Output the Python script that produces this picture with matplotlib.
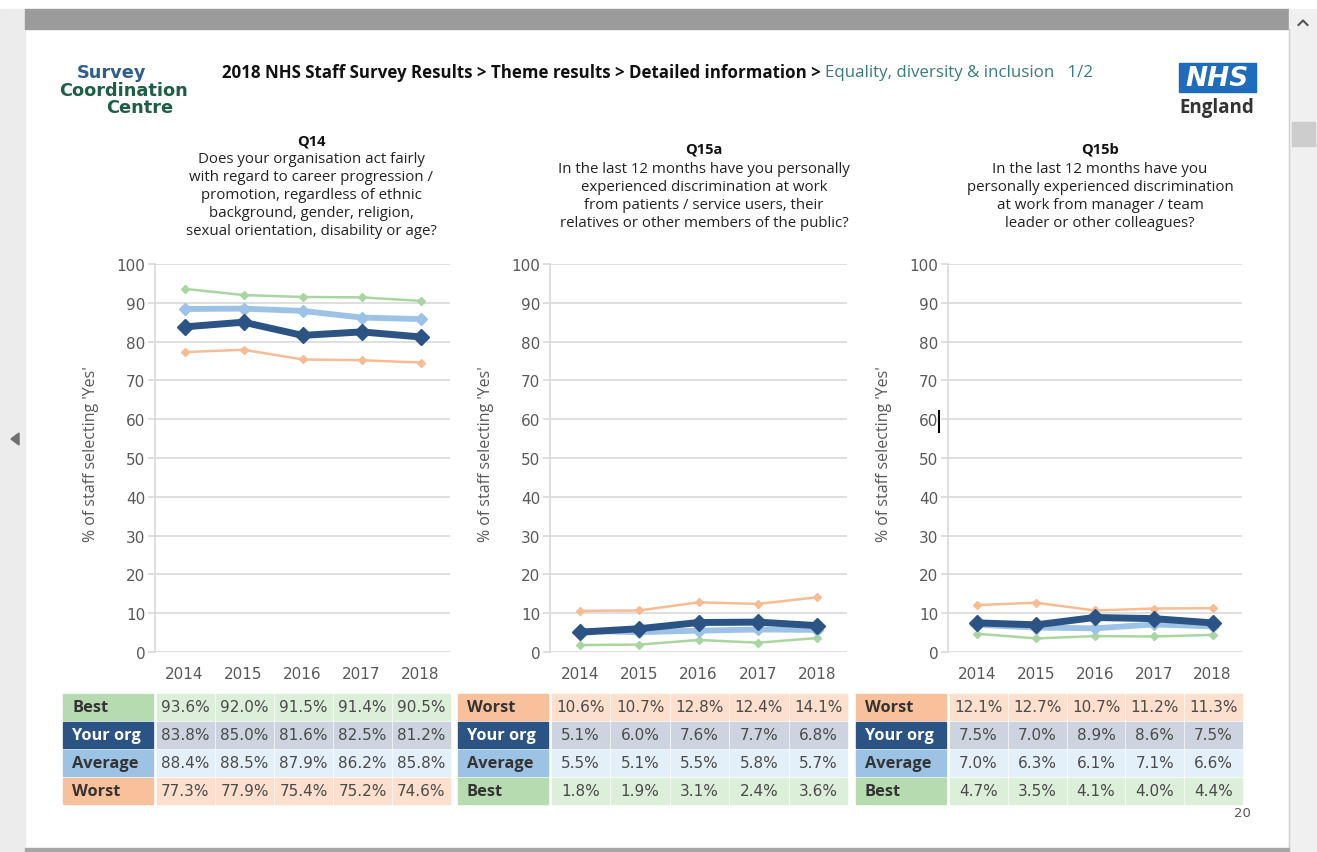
import matplotlib
matplotlib.use("Agg")
import matplotlib.pyplot as plt
from matplotlib.patches import Rectangle, Polygon

plt.rcParams['font.family'] = ['Open Sans', 'DejaVu Sans']

# ---------------- data ----------------
years = ["2014", "2015", "2016", "2017", "2018"]

q14_best = [93.6, 92.0, 91.5, 91.4, 90.5]
q14_org = [83.8, 85.0, 81.6, 82.5, 81.2]
q14_avg = [88.4, 88.5, 87.9, 86.2, 85.8]
q14_worst = [77.3, 77.9, 75.4, 75.2, 74.6]

q15a_worst = [10.6, 10.7, 12.8, 12.4, 14.1]
q15a_org = [5.1, 6.0, 7.6, 7.7, 6.8]
q15a_avg = [5.5, 5.1, 5.5, 5.8, 5.7]
q15a_best = [1.8, 1.9, 3.1, 2.4, 3.6]

q15b_worst = [12.1, 12.7, 10.7, 11.2, 11.3]
q15b_org = [7.5, 7.0, 8.9, 8.6, 7.5]
q15b_avg = [7.0, 6.3, 6.1, 7.1, 6.6]
q15b_best = [4.7, 3.5, 4.1, 4.0, 4.4]

titles = ["Q14", "Q15a", "Q15b"]
questions = [
    ["Does your organisation act fairly", "with regard to career progression /",
     "promotion, regardless of ethnic", "background, gender, religion,",
     "sexual orientation, disability or age?"],
    ["In the last 12 months have you personally", "experienced discrimination at work",
     "from patients / service users, their", "relatives or other members of the public?"],
    ["In the last 12 months have you", "personally experienced discrimination",
     "at work from manager / team", "leader or other colleagues?"],
]

yticks = [0, 10, 20, 30, 40, 50, 60, 70, 80, 90, 100]
ylabel = "% of staff selecting 'Yes'"

# rows per chart in table order
charts = [
    [("Best", q14_best), ("Your org", q14_org), ("Average", q14_avg), ("Worst", q14_worst)],
    [("Worst", q15a_worst), ("Your org", q15a_org), ("Average", q15a_avg), ("Best", q15a_best)],
    [("Worst", q15b_worst), ("Your org", q15b_org), ("Average", q15b_avg), ("Best", q15b_best)],
]

# ---------------- styles ----------------
W, H = 1317, 853
NUMFONT = ["DejaVu Sans"]
line_style = {
    "Best": dict(color="#a9d5a1", lw=1.8, ms=4.5, z=2),
    "Worst": dict(color="#f8bc95", lw=1.8, ms=4.5, z=2),
    "Average": dict(color="#9cc3e6", lw=4.2, ms=6.5, z=3),
    "Your org": dict(color="#2b5384", lw=5.0, ms=8.5, z=4),
}
label_bg = {"Best": "#b6dbb0", "Your org": "#2b5384", "Average": "#9cc3e4", "Worst": "#f8c09b"}
value_bg = {"Best": "#dcefd9", "Your org": "#cdd4df", "Average": "#e4f0f9", "Worst": "#fcdfcc"}
label_fg = {"Best": "#333333", "Your org": "white", "Average": "#333333", "Worst": "#333333"}

GRID = "#d9d9d9"
TXT = "#595959"

fig = plt.figure(figsize=(W / 100, H / 100), dpi=100)
bg = fig.add_axes([0, 0, 1, 1], zorder=0)
bg.set_xlim(0, W)
bg.set_ylim(H, 0)
bg.axis("off")

# viewer frame
bg.add_patch(Rectangle((0, 0), W, H, color="white", zorder=0))
bg.add_patch(Rectangle((0, 10), 25, H - 10, color="#ececec", zorder=1))
bg.add_patch(Rectangle((25, 10), 1264, 20, color="#9b9b9b", zorder=1))
bg.add_patch(Rectangle((1289, 10), 28, H - 10, color="#f0f0f0", zorder=1))
bg.plot([1289, 1289], [30, 850], color="#d0d0d0", lw=1, zorder=2)
bg.add_patch(Rectangle((1292, 123), 23, 24, color="#cdcdcd", zorder=2))
bg.plot([1298.5, 1303, 1307.5], [26, 21.5, 26], color="#555555", lw=1.5, zorder=3)
bg.add_patch(Polygon([[11, 440], [19, 434], [19, 446]], closed=True, color="#6f6f6f", zorder=3))
bg.add_patch(Rectangle((25, 849), 1264, 4, color="#a6a6a6", zorder=2))

# logos / header
logo_kw = dict(ha="center", va="center", fontsize=12.8, fontweight="bold", family=["DejaVu Sans"])
bg.text(112, 73, "Survey", color="#2e5d8e", **logo_kw)
bg.text(123, 91, "Coordination", color="#1e5d46", **logo_kw)
bg.text(140, 108, "Centre", color="#1e5d46", **logo_kw)

hdr = bg.text(222, 73, "2018 NHS Staff Survey Results > Theme results > Detailed information > ",
              ha="left", va="center", fontsize=12.2, fontweight="bold", color="#111111")
fig.canvas.draw()
x_end = hdr.get_window_extent().x1
xd, _ = bg.transData.inverted().transform((x_end, 0))
bg.text(xd, 73, "Equality, diversity & inclusion   1/2", ha="left", va="center",
        fontsize=12.2, color="#3a7c7b")

bg.add_patch(Rectangle((1179, 64), 77, 29, color="#1f6cbd", zorder=2))
bg.text(1217, 79, "NHS", ha="center", va="center", fontsize=19, fontweight="bold",
        style="italic", color="white", zorder=3, family=["DejaVu Sans"])
bg.text(1217, 108, "England", ha="center", va="center", fontsize=13.5, fontweight="bold",
        color="#333333")

bg.text(1242, 814, "20", ha="center", va="center", fontsize=9.5, color=TXT, family=NUMFONT)

# ---------------- charts ----------------
axes_px = [(155, 450), (550, 847), (948, 1242)]
title_cx = [311, 704, 1100]
title_y = [141, 149, 149]
first_off = [18, 20, 20]
y_top, y_bot = 265, 653

for i, (rows, (xl, xr)) in enumerate(zip(charts, axes_px)):
    ax = fig.add_axes([xl / W, (H - y_bot) / H, (xr - xl) / W, (y_bot - y_top) / H], zorder=2)
    ax.set_facecolor("none")
    xs = list(range(len(years)))
    for name, vals in sorted(rows, key=lambda r: line_style[r[0]]["z"]):
        st = line_style[name]
        ax.plot(xs, vals, color=st["color"], lw=st["lw"], marker="D", ms=st["ms"],
                mec=st["color"], mfc=st["color"], zorder=st["z"], solid_joinstyle="round",
                clip_on=False)
    ax.set_xlim(-0.5, len(years) - 0.5)
    ax.set_ylim(0, 100)
    ax.set_yticks(yticks)
    ax.set_xticks(xs)
    ax.set_xticklabels(years)
    for s in ["top", "right", "bottom"]:
        ax.spines[s].set_visible(False)
    ax.spines["left"].set_color(GRID)
    ax.spines["left"].set_linewidth(1.2)
    ax.grid(axis="y", color=GRID, lw=1.2, zorder=0)
    ax.set_axisbelow(True)
    ax.tick_params(axis="y", length=5, width=1.2, color=GRID, pad=2, labelsize=11, labelcolor=TXT)
    ax.tick_params(axis="x", length=0, pad=10, labelsize=11, labelcolor=TXT)
    for lab in ax.get_xticklabels() + ax.get_yticklabels():
        lab.set_family(NUMFONT)

    # y label
    bg.text(xl - 64, 454, ylabel, rotation=90, ha="center", va="center",
            fontsize=11.5, color=TXT)

    # title
    bg.text(title_cx[i], title_y[i], titles[i], ha="center", va="center", fontsize=10.5,
            fontweight="bold", color="#111111")
    for k, ln in enumerate(questions[i]):
        bg.text(title_cx[i], title_y[i] + first_off[i] + 18 * k, ln,
                ha="center", va="center", fontsize=10.8, color="#222222")

    # table
    lab_x0 = xl - 92
    colw = (xr - xl) / len(years)
    for r, (name, vals) in enumerate(rows):
        y0 = 695 + 28 * r
        bg.add_patch(Rectangle((lab_x0, y0), 90, 26, color=label_bg[name], zorder=2))
        bg.text(lab_x0 + 9, y0 + 13, name, ha="left", va="center", fontsize=11.8,
                fontweight="bold", color=label_fg[name], zorder=3)
        for c, v in enumerate(vals):
            cx0 = xl + 2 + c * colw
            bg.add_patch(Rectangle((cx0, y0), colw - 2, 26, color=value_bg[name], zorder=2))
            bg.text(cx0 + (colw - 2) / 2, y0 + 13, f"{v:.1f}%", ha="center", va="center",
                    fontsize=11, color="#4a4a4a", zorder=3, family=NUMFONT)

# text cursor artefact next to "60" on the third chart
bg.plot([939, 939], [412, 433], color="black", lw=1.5, zorder=5)

fig.savefig("out.png", dpi=100)
